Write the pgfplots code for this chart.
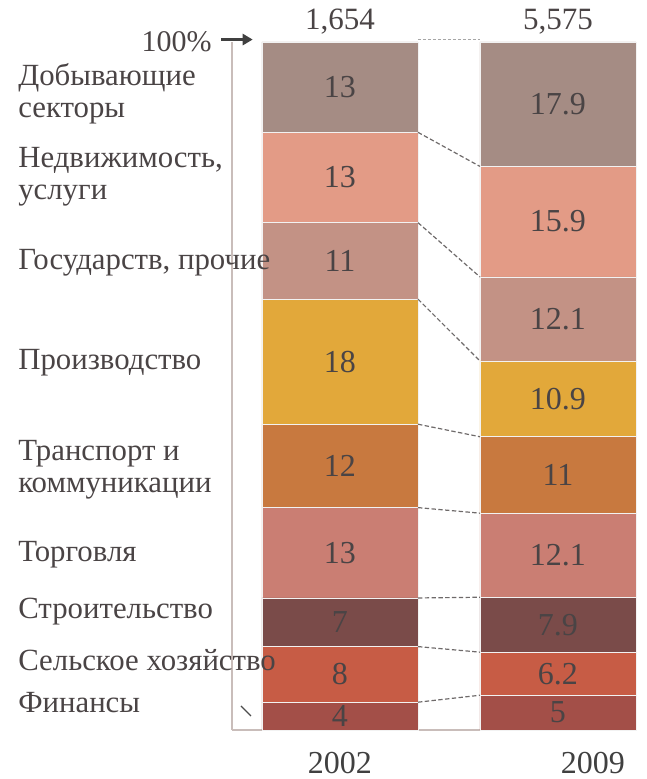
\documentclass[border=0pt]{standalone}
\usepackage{pgfplots}
\pgfplotsset{compat=1.18}
\usepackage{pgfplotstable}
\usetikzlibrary{arrows.meta}
\usepackage{fontspec}
\setmainfont{Liberation Serif}
\definecolor{cExt}{HTML}{A58C84}
\definecolor{cRe}{HTML}{E39B86}
\definecolor{cGov}{HTML}{C39285}
\definecolor{cMan}{HTML}{E2A83A}
\definecolor{cTrn}{HTML}{C8793F}
\definecolor{cTra}{HTML}{CA7E73}
\definecolor{cCon}{HTML}{7A4B49}
\definecolor{cAgr}{HTML}{C75C45}
\definecolor{cFin}{HTML}{A34F48}
\definecolor{txt}{HTML}{4A4445}
\definecolor{linec}{HTML}{C9BDBA}
\definecolor{dashc}{HTML}{6E6A6A}

\pgfplotstableread{
x Fin Agr Con Tra Trn Man Gov Re Ext
0 4 8 7 13 12 18 11 13 13
1 5 6.2 7.9 12.1 11 10.9 12.1 15.9 17.9
}\shares

\pgfplotstableread{
x y lab
0 2 4
0 8 8
0 15.5 7
0 25.5 13
0 38 12
0 53 18
0 67.5 11
0 79.5 13
0 92.5 13
1 2.5 5
1 8.1 6.2
1 15.15 7.9
1 25.15 12.1
1 36.7 11
1 47.65 10.9
1 59.15 12.1
1 73.15 15.9
1 90.05 17.9
}\labels

\pgfplotsset{common/.style={
  at={(116pt,24.5pt)}, anchor=south west,
  scale only axis, width=202pt, height=344pt,
  xmin=-0.495, xmax=1.358, ymin=0, ymax=99,
  enlargelimits=false, clip=false,
}}

\begin{document}
\begin{tikzpicture}
\useasboundingbox (0,0) rectangle (323pt,389.5pt);
\begin{axis}[common,
  ybar stacked, bar width=0.7156,
  axis x line*=bottom, axis y line*=left,
  axis line style={draw=linec, line width=0.8pt, -},
  xtick=\empty, ytick=\empty,
]
\addplot[fill=cFin, draw=white!90!gray, line width=0.3pt] table[x=x,y=Fin] {\shares};
\addplot[fill=cAgr, draw=white!90!gray, line width=0.3pt] table[x=x,y=Agr] {\shares};
\addplot[fill=cCon, draw=white!90!gray, line width=0.3pt] table[x=x,y=Con] {\shares};
\addplot[fill=cTra, draw=white!90!gray, line width=0.3pt] table[x=x,y=Tra] {\shares};
\addplot[fill=cTrn, draw=white!90!gray, line width=0.3pt] table[x=x,y=Trn] {\shares};
\addplot[fill=cMan, draw=white!90!gray, line width=0.3pt] table[x=x,y=Man] {\shares};
\addplot[fill=cGov, draw=white!90!gray, line width=0.3pt] table[x=x,y=Gov] {\shares};
\addplot[fill=cRe, draw=white!90!gray, line width=0.3pt] table[x=x,y=Re] {\shares};
\addplot[fill=cExt, draw=white!90!gray, line width=0.3pt] table[x=x,y=Ext] {\shares};
\end{axis}
\begin{axis}[common, hide axis]
\addplot[only marks, mark=none, nodes near coords, point meta=explicit symbolic,
  nodes near coords style={anchor=center, font=\fontsize{16}{18}\selectfont, text=txt}]
  table[x=x, y=y, meta=lab] {\labels};
\addplot[dashc, line width=0.6pt, dash pattern=on 2.2pt off 1.2pt] coordinates {(0.358,4) (0.642,5)};
\addplot[dashc, line width=0.6pt, dash pattern=on 2.2pt off 1.2pt] coordinates {(0.358,12) (0.642,11.2)};
\addplot[dashc, line width=0.6pt, dash pattern=on 2.2pt off 1.2pt] coordinates {(0.358,19) (0.642,19.1)};
\addplot[dashc, line width=0.6pt, dash pattern=on 2.2pt off 1.2pt] coordinates {(0.358,32) (0.642,31.2)};
\addplot[dashc, line width=0.6pt, dash pattern=on 2.2pt off 1.2pt] coordinates {(0.358,44) (0.642,42.2)};
\addplot[dashc, line width=0.6pt, dash pattern=on 2.2pt off 1.2pt] coordinates {(0.358,62) (0.642,53.1)};
\addplot[dashc, line width=0.6pt, dash pattern=on 2.2pt off 1.2pt] coordinates {(0.358,73) (0.642,65.2)};
\addplot[dashc, line width=0.6pt, dash pattern=on 2.2pt off 1.2pt] coordinates {(0.358,86) (0.642,81.1)};
\addplot[gray!70, line width=0.5pt, dash pattern=on 1.5pt off 1pt] coordinates {(0.358,99.3) (0.642,99.3)};
% left labels
\begin{scope}[every node/.style={anchor=west, text=txt, font=\fontsize{15.4}{16}\selectfont, align=left, inner sep=0pt}]
\node at (axis cs:-1.477,91.5) {Добывающие\\секторы};
\node at (axis cs:-1.477,79.6) {Недвижимость,\\услуги};
\node at (axis cs:-1.477,67.3) {Государств, прочие};
\node at (axis cs:-1.477,52.8) {Производство};
\node at (axis cs:-1.477,37.4) {Транспорт и\\коммуникации};
\node at (axis cs:-1.477,25.2) {Торговля};
\node at (axis cs:-1.477,17.1) {Строительство};
\node at (axis cs:-1.477,10.1) {Сельское хозяйство};
\node at (axis cs:-1.477,3.9) {Финансы};
\end{scope}
\node[text=txt, font=\fontsize{15.5}{17}\selectfont, anchor=center] at (axis cs:0,101.9) {1,654};
\node[text=txt, font=\fontsize{15.5}{17}\selectfont, anchor=center] at (axis cs:1,101.9) {5,575};
\node[text=black!75, font=\fontsize{16}{18}\selectfont, anchor=base, inner sep=0pt] at (axis cs:0,-6.3) {2002};
\node[text=black!75, font=\fontsize{16}{18}\selectfont, anchor=base, inner sep=0pt] at (axis cs:1.16,-6.3) {2009};
\node[text=txt, font=\fontsize{15}{17}\selectfont, anchor=east, inner sep=0pt] at (axis cs:-0.587,99.0) {100\%};
\draw[-{Triangle[length=5pt,width=5.5pt]}, line width=1.5pt, draw=black!75] (axis cs:-0.545,99.35) -- (axis cs:-0.40,99.35);
\draw[black!70, line width=0.6pt] (axis cs:-0.454,3.45) -- (axis cs:-0.408,2.01);
\end{axis}
\end{tikzpicture}
\end{document}
